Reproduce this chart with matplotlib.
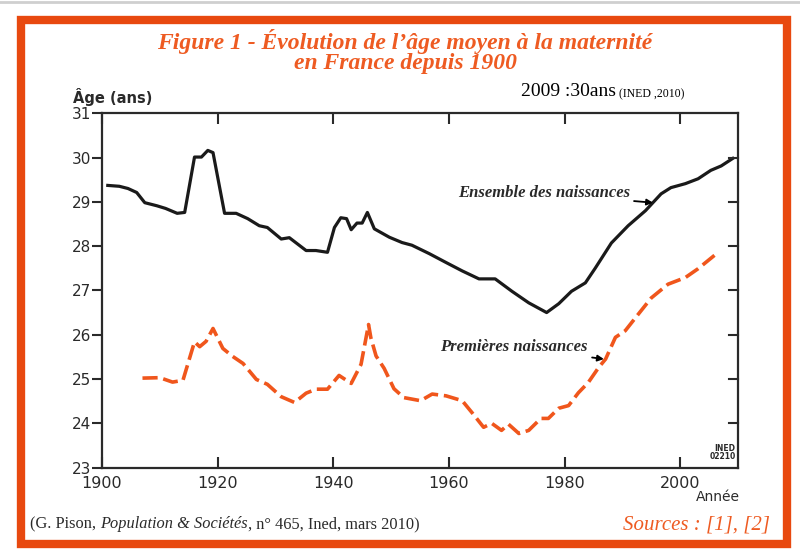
import matplotlib
matplotlib.use('Agg')
import matplotlib.pyplot as plt
from matplotlib.patches import Rectangle
from matplotlib.lines import Line2D

# Ensemble des naissances (age moyen, toutes naissances)
years_all = [1901, 1903, 1904.5, 1906, 1907.4, 1909.5, 1911, 1913, 1914.3, 1916,
             1917.2, 1918.3, 1919.2, 1921.2, 1923.2, 1925.2, 1927.2, 1928.6, 1931, 1932.4,
             1935.3, 1937, 1939, 1940.2, 1941.3, 1942.3, 1943.1, 1944.1, 1945, 1945.9,
             1947.1, 1949.7, 1951.9, 1953.6, 1956.6, 1959.5, 1962.3, 1965.2, 1968, 1970.9,
             1973.8, 1976.9, 1979, 1981.2, 1983.6, 1985.3, 1988.1, 1991, 1994, 1996.7,
             1998.4, 2000.9, 2003.1, 2005.3, 2007.1, 2009.1]
age_all = [29.37, 29.35, 29.30, 29.21, 28.98, 28.91, 28.85, 28.74, 28.76, 30.01,
           30.01, 30.16, 30.11, 28.74, 28.74, 28.62, 28.46, 28.42, 28.16, 28.19,
           27.90, 27.90, 27.86, 28.42, 28.64, 28.62, 28.37, 28.52, 28.52, 28.76,
           28.39, 28.20, 28.08, 28.02, 27.83, 27.63, 27.44, 27.26, 27.26, 26.98,
           26.72, 26.50, 26.70, 26.98, 27.17, 27.50, 28.07, 28.46, 28.80, 29.18,
           29.32, 29.41, 29.52, 29.71, 29.81, 29.98]

# Premieres naissances
years_first = [1907, 1910, 1912.2, 1914, 1916, 1916.9, 1918, 1919.2, 1920.9, 1922.6,
               1924.4, 1926.7, 1928.6, 1931, 1933.3, 1935.3, 1937, 1939, 1941, 1943.1,
               1944.8, 1946.1, 1946.5, 1947.4, 1948.8, 1950.5, 1952.2, 1955.1, 1957.1, 1959.5,
               1962.3, 1964, 1966, 1967.4, 1969.1, 1970.3, 1972.1, 1973.8, 1975.9, 1977.2,
               1979, 1980.7, 1982.4, 1984.1, 1985.9, 1987.1, 1988.8, 1990.5, 1992.8, 1995,
               1997.9, 2000.9, 2003.1, 2006.2]
age_first = [25.02, 25.03, 24.93, 24.97, 25.84, 25.73, 25.85, 26.14, 25.69, 25.51,
             25.35, 24.99, 24.88, 24.60, 24.47, 24.68, 24.77, 24.77, 25.08, 24.90,
             25.33, 26.23, 25.93, 25.52, 25.24, 24.78, 24.58, 24.51, 24.66, 24.62,
             24.51, 24.24, 23.91, 24.00, 23.84, 23.98, 23.77, 23.84, 24.11, 24.11,
             24.34, 24.40, 24.69, 24.92, 25.26, 25.45, 25.94, 26.09, 26.47, 26.83,
             27.14, 27.29, 27.49, 27.82]

x_ticks = [1900, 1920, 1940, 1960, 1980, 2000]
y_ticks = [23, 24, 25, 26, 27, 28, 29, 30, 31]

ORANGE = '#E8490F'
TITLE_ORANGE = '#EE5B22'
LINE_ORANGE = '#F0561C'
DARK = '#2a2a2a'

fig = plt.figure(figsize=(8, 5.49), dpi=100)
W, H = 800, 549

# orange frame around the whole figure
fig.patches.append(Rectangle((21 / W, 1 - 544 / H), 766 / W, 524 / H,
                             transform=fig.transFigure, fill=False,
                             edgecolor=ORANGE, linewidth=6.0))
fig.add_artist(Line2D([0, 1], [1 - 1.5 / H, 1 - 1.5 / H], color='#cfcfcf', lw=2,
                      transform=fig.transFigure))

ax = fig.add_axes([102 / W, 1 - 467.6 / H, 636 / W, 354.4 / H])

ax.plot(years_all, age_all, color='#1a1a1a', lw=2.3, solid_joinstyle='round')
ax.plot(years_first, age_first, color=LINE_ORANGE, lw=2.6, dashes=(4.2, 1.6))

ax.set_xlim(1900, 2010)
ax.set_ylim(23, 31)
ax.set_xticks(x_ticks)
ax.set_yticks(y_ticks)
for s in ax.spines.values():
    s.set_linewidth(1.6)
    s.set_color(DARK)

ax.tick_params(axis='x', which='both', direction='in', length=8, width=1.5,
               top=True, bottom=True, color=DARK, labelsize=11.5, labelcolor=DARK, pad=6)
ax.tick_params(axis='y', which='both', direction='out', length=7, width=1.5,
               left=True, right=False, color=DARK, labelsize=11, labelcolor=DARK, pad=1)
# inward ticks on the right side (24..30)
for yv in y_ticks[1:-1]:
    ax.plot([2010 - 1.5, 2010], [yv, yv], color=DARK, lw=1.5, clip_on=False)
for lab in ax.get_xticklabels() + ax.get_yticklabels():
    lab.set_family('DejaVu Sans')

# annotations with arrows
ax.annotate('Ensemble des naissances', xy=(1995.3, 28.98), xytext=(1991.3, 29.19),
            ha='right', va='center', fontsize=12, fontstyle='italic', fontweight='bold',
            family='Liberation Serif', color='#2a2a2a',
            arrowprops=dict(arrowstyle='-|>', color='black', lw=1.3, mutation_scale=9,
                            shrinkA=1, shrinkB=0))
ax.annotate('Premières naissances', xy=(1986.8, 25.45), xytext=(1984.05, 25.72),
            ha='right', va='center', fontsize=12, fontstyle='italic', fontweight='bold',
            family='Liberation Serif', color='#2a2a2a',
            arrowprops=dict(arrowstyle='-|>', color='black', lw=1.3, mutation_scale=9,
                            shrinkA=1, shrinkB=0))
ax.text(2009.6, 23.15, 'INED\n02210', ha='right', va='bottom', fontsize=5.5,
        fontweight='bold', color=DARK, linespacing=0.9, family='DejaVu Sans Condensed')

# titles and labels
fig.text(405 / W, 1 - 41 / H, "Figure 1 - Évolution de l’âge moyen à la maternité",
         ha='center', va='center', fontsize=17, fontstyle='italic', fontweight='bold',
         family='Liberation Serif', color=TITLE_ORANGE)
fig.text(405 / W, 1 - 63 / H, "en France depuis 1900",
         ha='center', va='center', fontsize=17, fontstyle='italic', fontweight='bold',
         family='Liberation Serif', color=TITLE_ORANGE)
fig.text(73 / W, 1 - 97 / H, 'Âge (ans)', ha='left', va='center', fontsize=10.5,
         fontweight='bold', family='DejaVu Sans', color=DARK)
t1 = fig.text(521 / W, 1 - 96 / H, '2009 :30ans', ha='left', va='baseline',
              fontsize=14, family='Liberation Serif', color='black')
ax.annotate(' (INED ,2010)', xy=(1, 0), xycoords=t1, ha='left', va='bottom',
            fontsize=8.5, family='Liberation Serif', color='black', annotation_clip=False)
fig.text(740 / W, 1 - 497 / H, 'Année', ha='right', va='center', fontsize=10,
         family='DejaVu Sans', color=DARK)

f1 = fig.text(30 / W, 1 - 532 / H, '(G. Pison, ', ha='left', va='bottom',
              fontsize=11.8, family='Liberation Serif', color=DARK)
f2 = ax.annotate('Population & Sociétés', xy=(1, 0), xycoords=f1, ha='left', va='bottom',
                 fontsize=11.8, fontstyle='italic', family='Liberation Serif', color=DARK,
                 annotation_clip=False)
ax.annotate(', n° 465, Ined, mars 2010)', xy=(1, 0), xycoords=f2, ha='left', va='bottom',
            fontsize=11.8, family='Liberation Serif', color=DARK, annotation_clip=False)
fig.text(770 / W, 1 - 525 / H, 'Sources : [1], [2]', ha='right', va='center',
         fontsize=15, fontstyle='italic', family='Liberation Serif', color=TITLE_ORANGE)

fig.savefig('out.png', dpi=100)
